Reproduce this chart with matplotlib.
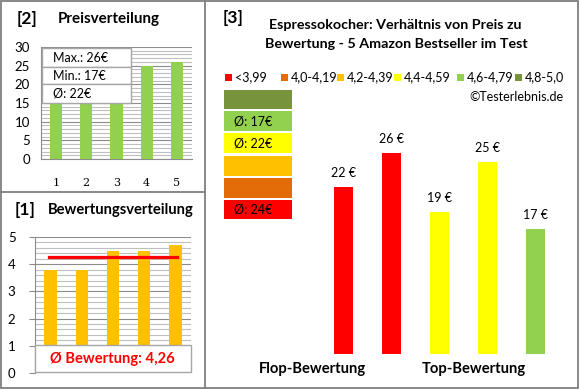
"""Espressokocher: Preis- und Bewertungsverteilung (Testerlebnis-Stil)."""

import matplotlib

matplotlib.use("Agg")
import matplotlib.pyplot as plt
from matplotlib.patches import Rectangle
from matplotlib.ticker import MultipleLocator

W, H = 580, 390

# data
products = [1, 2, 3, 4, 5]
prices = [22, 26, 19, 25, 17]
ratings = [3.8, 3.8, 4.5, 4.5, 4.7]

rating_bins = ["<3,99", "4,0-4,19", "4,2-4,39", "4,4-4,59", "4,6-4,79", "4,8-5,0"]
bin_lower = [0.0, 4.0, 4.2, 4.4, 4.6, 4.8]
bin_colors = ["#FF0000", "#E36C09", "#FFC000", "#FFFF00", "#92D050", "#77933C"]

group_labels = ["Flop-Bewertung", "Top-Bewertung"]

FONT = "Lato"
GRID_MAJOR = "#8C8C8C"
GRID_MINOR = "#BFBFBF"
SMALL = 9
BOLD = 10.6


def bin_index(r):
    idx = 0
    for i, lo in enumerate(bin_lower):
        if r >= lo:
            idx = i
    return idx


def px_rect(x0, y0, x1, y1):
    return [x0 / W, 1 - y1 / H, (x1 - x0) / W, (y1 - y0) / H]


plt.rcParams["font.family"] = [FONT, "DejaVu Sans"]

fig = plt.figure(figsize=(W / 100, H / 100), dpi=100)

# ---------- [2] Preisverteilung ----------
ax2 = fig.add_axes(px_rect(41, 47, 192, 159))
ax2.bar(products, sorted(prices), width=0.4, color="#92D050", zorder=3)
ax2.set_xlim(0.5, 5.5)
ax2.set_ylim(0, 30)
ax2.yaxis.set_major_locator(MultipleLocator(5))
ax2.yaxis.set_minor_locator(MultipleLocator(1))
ax2.grid(axis="y", which="major", color=GRID_MAJOR, lw=0.8, zorder=0)
ax2.grid(axis="y", which="minor", color=GRID_MINOR, lw=0.8, zorder=0)
for s in ["top", "right"]:
    ax2.spines[s].set_visible(False)
for s in ["left", "bottom"]:
    ax2.spines[s].set_color(GRID_MAJOR)
ax2.tick_params(axis="y", which="both", length=0, labelsize=9.5, pad=8)
ax2.tick_params(axis="x", length=0, pad=14)
ax2.set_xticks(products)
ax2.set_xticklabels([str(p) for p in products], family="DejaVu Serif", fontsize=8)

# ---------- [1] Bewertungsverteilung ----------
ax1 = fig.add_axes(px_rect(35, 237, 191, 373))
ax1.bar(products, ratings, width=0.4, color="#FFC000", zorder=3)
avg_rating = sum(ratings) / len(ratings)
ax1.plot([0.95, 5.05], [avg_rating, avg_rating], color="#FF0000", lw=2.3, zorder=4)
ax1.set_xlim(0.5, 5.5)
ax1.set_ylim(0, 5)
ax1.yaxis.set_major_locator(MultipleLocator(1))
ax1.yaxis.set_minor_locator(MultipleLocator(0.2))
ax1.grid(axis="y", which="major", color=GRID_MAJOR, lw=0.8, zorder=0)
ax1.grid(axis="y", which="minor", color=GRID_MINOR, lw=0.8, zorder=0)
for s in ["top", "right", "bottom"]:
    ax1.spines[s].set_visible(False)
ax1.spines["left"].set_color(GRID_MAJOR)
ax1.tick_params(axis="y", which="major", length=4, color=GRID_MAJOR, labelsize=9.5, pad=10)
ax1.tick_params(axis="y", which="minor", length=0)
ax1.set_xticks([])

# ---------- [3] Hauptdiagramm ----------
ax3 = fig.add_axes(px_rect(319.5, 100, 559.5, 354))
ax3.axis("off")
ax3.set_xlim(-0.5, 4.5)
ax3.set_ylim(2.2, 2.2 + 254 / 8.44)
xs = list(range(len(prices)))
bar_cols = [bin_colors[bin_index(r)] for r in ratings]
ax3.bar(xs, prices, width=0.4, color=bar_cols, bottom=0)
for x, p in zip(xs, prices):
    ax3.annotate(f"{p} €", (x, p), xytext=(0, 10), textcoords="offset points",
                 ha="center", va="center", fontsize=SMALL)

# overlay in pixel coordinates for frames, titles, boxes and legend
ov = fig.add_axes([0, 0, 1, 1])
ov.set_zorder(10)
ov.set_xlim(0, W)
ov.set_ylim(H, 0)
ov.axis("off")

frame = "#7F7F7F"
ov.add_patch(Rectangle((1, 1), 577, 387, fill=False, ec=frame, lw=1.3))
ov.plot([205, 205], [1, 388], color=frame, lw=1.3)
ov.plot([1, 205], [191.5, 191.5], color=frame, lw=1.3)

ov.text(27, 19, "[2]", fontsize=12.5, fontweight="bold", ha="center", va="center")
ov.text(109, 19, "Preisverteilung", fontsize=BOLD + 0.3, fontweight="bold", ha="center", va="center")

info = [f"Max.: {max(prices)}€", f"Min.: {min(prices)}€", f"Ø: {round(sum(prices) / len(prices))}€"]
row_edges = [48, 67, 84, 103]
for i, txt in enumerate(info):
    ov.add_patch(Rectangle((42, row_edges[i]), 89, row_edges[i + 1] - row_edges[i],
                           fc="white", ec="#A6A6A6", lw=1))
    ov.text(53, (row_edges[i] + row_edges[i + 1]) / 2 + 0.5, txt, fontsize=SMALL, va="center")

ov.text(25, 210, "[1]", fontsize=12.5, fontweight="bold", ha="center", va="center")
ov.text(121, 210, "Bewertungsverteilung", fontsize=BOLD, fontweight="bold", ha="center", va="center")

ov.add_patch(Rectangle((34.5, 345), 156, 27, fc="white", ec="#A6A6A6", lw=1))
ov.text(112, 358.5, "Ø Bewertung: " + f"{avg_rating:.2f}".replace(".", ","), color="#FF0000",
        fontsize=BOLD, fontweight="bold", ha="center", va="center")

ov.text(233, 18, "[3]", fontsize=12.5, fontweight="bold", ha="center", va="center")
ov.text(395, 25, "Espressokocher: Verhältnis von Preis zu", fontsize=BOLD - 0.3, fontweight="bold",
        ha="center", va="center")
ov.text(396, 44, "Bewertung - 5 Amazon Bestseller im Test", fontsize=BOLD - 0.3, fontweight="bold",
        ha="center", va="center")

legend_x = [225, 281, 337, 394, 457, 515]
for x, lab, col in zip(legend_x, rating_bins, bin_colors):
    ov.add_patch(Rectangle((x, 73.5), 7, 7, fc=col, ec="none"))
    ov.text(x + 9.5, 77.5, lab, fontsize=SMALL, va="center")
ov.text(563, 97, "©Testerlebnis.de", fontsize=SMALL, ha="right", va="center")

# average price per rating class (top row = best class)
box_rows = [(90, 109), (111, 131), (133, 153), (156, 176), (178, 198), (200, 219)]
for k, (y0, y1) in enumerate(box_rows):
    cls = len(bin_colors) - 1 - k
    ov.add_patch(Rectangle((224, y0), 68, y1 - y0, fc=bin_colors[cls], ec="none"))
    members = [p for p, r in zip(prices, ratings) if bin_index(r) == cls]
    if members:
        ov.text(234, (y0 + y1) / 2 + 0.5, f"Ø: {round(sum(members) / len(members))}€",
                fontsize=SMALL, va="center")

ov.text(312, 369, group_labels[0], fontsize=BOLD, fontweight="bold", ha="center", va="center")
ov.text(474, 369, group_labels[1], fontsize=BOLD, fontweight="bold", ha="center", va="center")

fig.savefig("out.png", dpi=100)
